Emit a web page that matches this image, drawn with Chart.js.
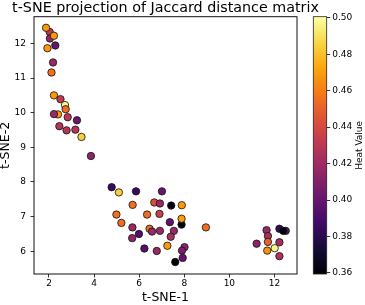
<!DOCTYPE html>
<html><head><meta charset="utf-8">
<script src="https://cdn.jsdelivr.net/npm/chart.js@4/dist/chart.umd.min.js"></script>
<style>html,body{margin:0;padding:0;background:#fff;}#wrap{width:365px;height:305px;}</style>
</head><body><div id="wrap"><canvas id="c" width="365" height="305"></canvas></div>
<script>
const tsne1 = [2.03,2.04,1.87,2.22,1.93,2.28,2.18,2.11,2.22,2.51,2.71,2.74,2.40,2.22,2.83,3.24,2.46,2.78,3.17,3.44,3.86,
  4.78,5.10,5.86,7.01,5.71,4.99,5.21,6.35,6.67,6.92,7.42,7.89,6.90,7.36,7.88,7.88,8.96,5.70,5.99,5.69,6.46,6.57,6.92,7.54,7.40,7.25,6.23,6.78,8.01,7.90,7.93,7.60,
  11.65,11.71,11.71,11.21,12.22,12.50,12.39,12.22,12.01,11.68,12.22];
const tsne2 = [12.33,12.14,12.45,12.22,11.86,11.94,11.45,11.16,10.50,10.39,10.22,10.10,9.95,9.96,9.87,9.78,9.61,9.49,9.51,9.30,8.75,
  7.85,7.70,7.73,7.73,7.34,7.06,6.82,7.06,7.41,7.38,7.32,7.33,7.08,6.84,6.77,6.94,6.69,6.69,6.50,6.38,6.65,6.57,6.59,6.59,6.42,6.16,6.08,6.01,6.12,6.02,5.81,5.69,
  6.61,6.44,6.27,6.22,6.65,6.59,6.59,6.26,6.09,6.02,5.86];
const heat = [0.430,0.415,0.468,0.468,0.468,0.400,0.418,0.455,0.468,0.432,0.497,0.455,0.468,0.418,0.430,0.402,0.428,0.428,0.428,0.484,0.414,
  0.385,0.484,0.386,0.400,0.455,0.455,0.455,0.455,0.442,0.418,0.362,0.470,0.435,0.398,0.362,0.470,0.455,0.418,0.392,0.415,0.455,0.418,0.418,0.418,0.424,0.468,0.395,0.418,0.414,0.408,0.400,0.360,
  0.418,0.423,0.450,0.414,0.384,0.395,0.360,0.422,0.497,0.466,0.427];
const xTicks = [2,4,6,8,10,12];
const yTicks = [6,7,8,9,10,11,12];
const heatTicks = [0.36,0.38,0.40,0.42,0.44,0.46,0.48,0.50];
const xRange = [1.335, 13.0];
const yRange = [5.345, 12.77];
const heatRange = [0.3594, 0.5006];
const chartTitle = 't-SNE projection of Jaccard distance matrix';
const xLabel = 't-SNE-1', yLabel = 't-SNE-2', heatLabel = 'Heat Value';

const FONT = 'DejaVu Sans';
const infernoStops = ['#000004','#160b39','#420a68','#6a176e','#932667','#bc3754','#dd513a','#f37819','#fca50a','#f6d746','#fcffa4'];
function hex(h){return [parseInt(h.slice(1,3),16),parseInt(h.slice(3,5),16),parseInt(h.slice(5,7),16)];}
function inferno(t){
  t = Math.max(0, Math.min(1, t));
  const p = t*(infernoStops.length-1); const i = Math.min(Math.floor(p), infernoStops.length-2); const f = p-i;
  const a = hex(infernoStops[i]), b = hex(infernoStops[i+1]);
  return 'rgb(' + a.map((v,k)=>Math.round(v+(b[k]-v)*f)).join(',') + ')';
}
const norm = v => (v-heatRange[0])/(heatRange[1]-heatRange[0]);
const points = tsne1.map((x,i)=>({x, y: tsne2[i]}));
const colors = heat.map(v=>inferno(norm(v)));

const CB_LEFT = 313.3, CB_RIGHT = 326.7;
const cbPlugin = {
  id: 'cb',
  afterLayout(chart){
    const s = chart.scales.cb;
    s.left = CB_RIGHT; s.right = 365;
  },
  afterDatasetsDraw(chart){
    const {ctx, chartArea: a} = chart;
    ctx.save();
    ctx.strokeStyle = '#111'; ctx.lineWidth = 1;
    ctx.strokeRect(a.left, a.top, a.right-a.left, a.bottom-a.top);
    ctx.restore();
  },
  afterDraw(chart){
    const ctx = chart.ctx, s = chart.scales.cb, a = chart.chartArea;
    // title centred over the plot area
    ctx.save();
    ctx.fillStyle = '#000';
    ctx.font = '14.3px "' + FONT + '"';
    ctx.textAlign = 'center'; ctx.textBaseline = 'middle';
    ctx.fillText(chartTitle, (a.left + a.right)/2, 8.5);
    ctx.restore();
    const yTop = s.getPixelForValue(heatRange[1]), yBot = s.getPixelForValue(heatRange[0]);
    const g = ctx.createLinearGradient(0, yBot, 0, yTop);
    infernoStops.forEach((c,i)=>g.addColorStop(i/(infernoStops.length-1), c));
    ctx.save();
    ctx.fillStyle = g;
    ctx.fillRect(CB_LEFT, yTop, CB_RIGHT-CB_LEFT, yBot-yTop);
    ctx.strokeStyle = '#222'; ctx.lineWidth = 0.8;
    ctx.strokeRect(CB_LEFT, yTop, CB_RIGHT-CB_LEFT, yBot-yTop);
    ctx.translate(360, (yTop+yBot)/2);
    ctx.rotate(-Math.PI/2);
    ctx.fillStyle = '#000';
    ctx.font = '9px "' + FONT + '"';
    ctx.textAlign = 'center'; ctx.textBaseline = 'middle';
    ctx.fillText(heatLabel, 0, 0);
    ctx.restore();
  }
};

const tickGrid = {display:true, drawOnChartArea:false, drawTicks:true, tickLength:3.5, color:'#000', lineWidth:0.8};
new Chart(document.getElementById('c'), {
  type: 'scatter',
  data: { datasets: [{ data: points, pointBackgroundColor: colors, pointBorderColor: '#111', pointBorderWidth: 0.8, pointRadius: 3.7, pointHoverRadius: 3.7 }] },
  options: {
    responsive: false, animation: false, events: [],
    layout: { padding: { top: 16.7 } },
    plugins: {
      legend: {display:false}, tooltip: {enabled:false}, title: {display:false}
    },
    scales: {
      x: { type:'linear', position:'bottom', min:xRange[0], max:xRange[1],
        afterFit(s){ s.height = 31; },
        afterBuildTicks(s){ s.ticks = xTicks.map(v=>({value:v})); },
        grid: tickGrid, border:{display:false},
        ticks:{ font:{family:FONT, size:9}, color:'#000', padding:1.2, maxRotation:0, autoSkip:false },
        title:{ display:true, text:xLabel, color:'#000', font:{family:FONT, size:12.5, lineHeight:1.12}, padding:0 } },
      y: { type:'linear', position:'left', min:yRange[0], max:yRange[1],
        afterFit(s){ s.width = 34; },
        afterBuildTicks(s){ s.ticks = yTicks.map(v=>({value:v})); },
        grid: tickGrid, border:{display:false},
        ticks:{ font:{family:FONT, size:9}, color:'#000', padding:4.5, autoSkip:false },
        title:{ display:true, text:yLabel, color:'#000', font:{family:FONT, size:12.5, lineHeight:0.9}, padding:0 } },
      cb: { type:'linear', position:'right', min:heatRange[0], max:heatRange[1],
        afterFit(s){ s.width = 68; },
        afterBuildTicks(s){ s.ticks = heatTicks.map(v=>({value:v})); },
        grid: tickGrid, border:{display:false},
        ticks:{ font:{family:FONT, size:9}, color:'#000', padding:2, autoSkip:false, callback:v=>Number(v).toFixed(2) } }
    }
  },
  plugins: [cbPlugin]
});
</script></body></html>
